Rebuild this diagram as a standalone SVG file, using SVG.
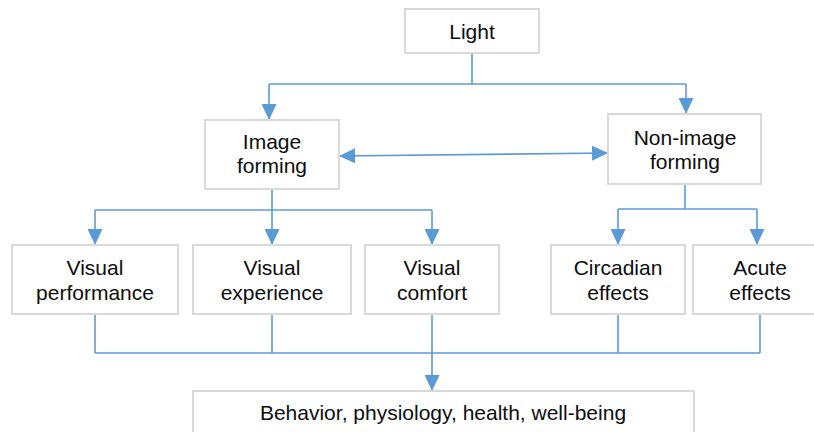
<svg xmlns="http://www.w3.org/2000/svg" width="814" height="432" viewBox="0 0 814 432">
  <style>
    .box { fill: #ffffff; stroke: #d9d9d9; stroke-width: 2; }
    .lbl { font-family: "Liberation Sans", Arial, sans-serif; font-size: 21px; fill: #0d0d0d; text-anchor: middle; }
    .wire { fill: none; stroke: #5b9bd5; stroke-width: 1.6; }
  </style>
  <defs>
    <marker id="tri" viewBox="0 0 16 15" refX="16" refY="7.5" markerWidth="16" markerHeight="15" markerUnits="userSpaceOnUse" orient="auto-start-reverse">
      <path d="M0,0 L16,7.5 L0,15 Z" fill="#5b9bd5"/>
    </marker>
  </defs>

  <rect width="814" height="432" fill="#ffffff"/>

  <!-- connectors -->
  <g id="connectors">
    <!-- Light to both branches -->
    <path class="wire" d="M472,53 V84"/>
    <path class="wire" d="M269,84 H686"/>
    <path class="wire" d="M269,84 V120" marker-end="url(#tri)"/>
    <path class="wire" d="M686,84 V114" marker-end="url(#tri)"/>
    <!-- two-way link between branches -->
    <path class="wire" d="M339,156 L608,153" marker-start="url(#tri)" marker-end="url(#tri)"/>
    <!-- Image forming to its outcomes -->
    <path class="wire" d="M272,189 V210"/>
    <path class="wire" d="M95,210 H432"/>
    <path class="wire" d="M95,210 V245" marker-end="url(#tri)"/>
    <path class="wire" d="M272,210 V245" marker-end="url(#tri)"/>
    <path class="wire" d="M432,210 V245" marker-end="url(#tri)"/>
    <!-- Non-image forming to its outcomes -->
    <path class="wire" d="M685,184 V209"/>
    <path class="wire" d="M618,209 H757"/>
    <path class="wire" d="M618,209 V245" marker-end="url(#tri)"/>
    <path class="wire" d="M757,209 V245" marker-end="url(#tri)"/>
    <!-- outcomes merge into the bottom box -->
    <path class="wire" d="M95,314 V353 M272,314 V353 M618,314 V353 M760,314 V353"/>
    <path class="wire" d="M95,353 H760"/>
    <path class="wire" d="M432,314 V391" marker-end="url(#tri)"/>
  </g>

  <g id="light">
    <rect class="box" x="405" y="9" width="134" height="44"/>
    <text class="lbl" x="472" y="39">Light</text>
  </g>

  <g id="image-forming">
    <rect class="box" x="205" y="120" width="134" height="69"/>
    <text class="lbl" x="272" y="149">Image</text>
    <text class="lbl" x="272" y="173">forming</text>
  </g>

  <g id="non-image-forming">
    <rect class="box" x="608" y="114" width="153" height="70"/>
    <text class="lbl" x="685" y="145">Non-image</text>
    <text class="lbl" x="685" y="169">forming</text>
  </g>

  <g id="visual-performance">
    <rect class="box" x="12" y="245" width="166" height="69"/>
    <text class="lbl" x="95" y="275">Visual</text>
    <text class="lbl" x="95" y="300">performance</text>
  </g>

  <g id="visual-experience">
    <rect class="box" x="193" y="245" width="158" height="69"/>
    <text class="lbl" x="272" y="275">Visual</text>
    <text class="lbl" x="272" y="300">experience</text>
  </g>

  <g id="visual-comfort">
    <rect class="box" x="365" y="245" width="134" height="69"/>
    <text class="lbl" x="432" y="275">Visual</text>
    <text class="lbl" x="432" y="300">comfort</text>
  </g>

  <g id="circadian-effects">
    <rect class="box" x="551" y="245" width="134" height="69"/>
    <text class="lbl" x="618" y="275">Circadian</text>
    <text class="lbl" x="618" y="300">effects</text>
  </g>

  <g id="acute-effects">
    <rect class="box" x="693" y="245" width="130" height="69"/>
    <text class="lbl" x="760" y="275">Acute</text>
    <text class="lbl" x="760" y="300">effects</text>
  </g>

  <g id="outcomes">
    <rect class="box" x="193" y="391" width="501" height="60"/>
    <text class="lbl" x="443" y="420">Behavior, physiology, health, well-being</text>
  </g>
</svg>
